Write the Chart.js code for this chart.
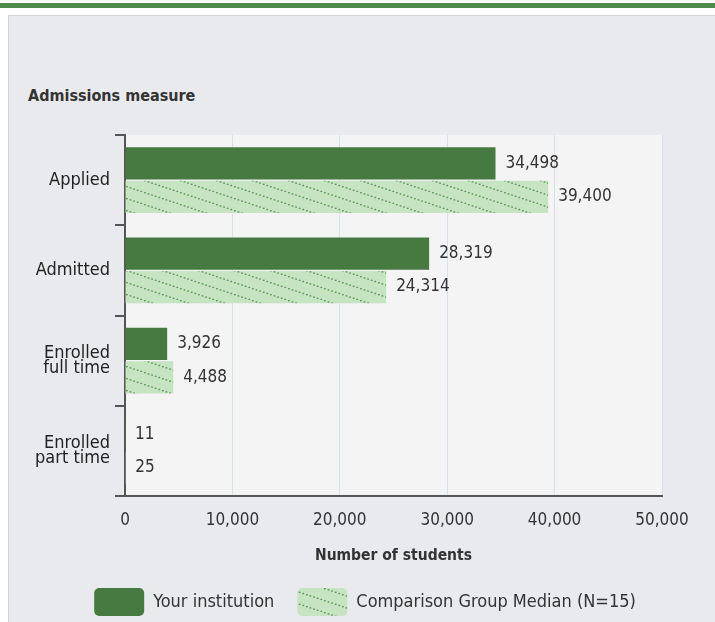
<!DOCTYPE html>
<html>
<head>
<meta charset="utf-8">
<script src="https://cdn.jsdelivr.net/npm/chart.js@4/dist/chart.umd.min.js"></script>
<style>
  html, body { margin: 0; padding: 0; background: #fff; }
  body { width: 715px; height: 622px; position: relative; overflow: hidden;
         font-family: "DejaVu Sans Condensed", "DejaVu Sans", sans-serif; }
  #topbar { position: absolute; left: 0; top: 3px; width: 715px; height: 5px; background: #4e8a48; }
  #panel { position: absolute; left: 8px; top: 15px; width: 720px; height: 620px;
           background: #e9eaed; border-top: 1px solid #d3d4d6; border-left: 1px solid #d3d4d6; }
  #heading { position: absolute; left: 28px; top: 86px; font-size: 16px; font-weight: bold; color: #333; }
  #wrap { position: absolute; left: 0; top: 0; width: 715px; height: 626px; }
</style>
</head>
<body>
<div id="topbar"></div>
<div id="panel"></div>
<div id="heading">Admissions measure</div>
<div id="wrap"><canvas id="chart"></canvas></div>
<script>
// data
const categories = [["Applied"], ["Admitted"], ["Enrolled", "full time"], ["Enrolled", "part time"]];
const yourInstitution = [34498, 28319, 3926, 11];
const comparisonMedian = [39400, 24314, 4488, 25];
const xTicks = [0, 10000, 20000, 30000, 40000, 50000];

const FONT = '"DejaVu Sans Condensed", "DejaVu Sans", sans-serif';
Chart.defaults.font.family = FONT;
Chart.defaults.color = "#333";

// dotted shallow diagonal hatch for the comparison bars
function makeHatch() {
  const c = document.createElement("canvas");
  c.width = 36; c.height = 12;
  const g = c.getContext("2d");
  g.fillStyle = "#c6e3c2";
  g.fillRect(0, 0, 36, 12);
  g.fillStyle = "#5b9856";
  for (let x = 0; x < 36; x += 3.6) {
    g.fillRect(x, x / 3, 1.7, 1.4);
  }
  return g.createPattern(c, "repeat");
}
const hatch = makeHatch();

// plot background
const plotBg = {
  id: "plotBg",
  beforeDraw(chart) {
    const { ctx, chartArea: a } = chart;
    ctx.save();
    ctx.fillStyle = "#f4f4f5";
    ctx.fillRect(a.left, a.top, a.right - a.left, a.bottom - a.top);
    ctx.restore();
  }
};

// legend sits centred on the grey panel, not on the canvas box
const legendShift = {
  id: "legendShift",
  beforeDraw(chart) {
    if (chart.legend) { chart.legend.left = 68; chart.legend.right = 662; }
  }
};

// value labels at the end of each bar
const valueLabels = {
  id: "valueLabels",
  afterDatasetsDraw(chart) {
    const { ctx } = chart;
    ctx.save();
    ctx.font = "17px " + FONT;
    ctx.fillStyle = "#333";
    ctx.textBaseline = "middle";
    chart.data.datasets.forEach((ds, i) => {
      chart.getDatasetMeta(i).data.forEach((bar, j) => {
        ctx.fillText(ds.data[j].toLocaleString("en-US"), bar.x + 10, bar.y);
      });
    });
    ctx.restore();
  }
};

new Chart(document.getElementById("chart"), {
  type: "bar",
  data: {
    labels: categories,
    datasets: [
      { label: "Your institution", data: yourInstitution, backgroundColor: "#467a41",
        borderWidth: 0, categoryPercentage: 0.74, barPercentage: 0.97 },
      { label: "Comparison Group Median (N=15)", data: comparisonMedian, backgroundColor: hatch,
        borderWidth: 0, categoryPercentage: 0.74, barPercentage: 0.97 }
    ]
  },
  options: {
    indexAxis: "y",
    responsive: true,
    maintainAspectRatio: false,
    animation: false,
    layout: { padding: { top: 135, right: 53, left: 0, bottom: 0 } },
    plugins: {
      tooltip: { enabled: false },
      legend: {
        position: "bottom",
        labels: {
          font: { size: 18 }, color: "#333",
          boxWidth: 50, boxHeight: 28, useBorderRadius: true, borderRadius: 5, padding: 23
        }
      }
    },
    scales: {
      x: {
        min: 0, max: 50000,
        afterBuildTicks(s) { s.ticks = xTicks.map(v => ({ value: v })); },
        grid: { color: "#d9dfeb", drawTicks: false, lineWidth: 1 },
        border: { display: true, color: "#555", width: 2 },
        ticks: { font: { size: 17 }, color: "#333", padding: 14,
                 callback: v => v.toLocaleString("en-US") },
        title: { display: true, text: "Number of students", color: "#333",
                 font: { size: 15.5, weight: "bold" }, padding: { top: 2, bottom: 0 } }
      },
      y: {
        afterFit(s) { s.width = 125; },
        grid: { drawOnChartArea: false, drawTicks: true, tickLength: 10, offset: true, color: "#555", lineWidth: 2 },
        border: { display: true, color: "#555", width: 2 },
        ticks: { font: { size: 18, lineHeight: 0.85 }, color: "#222", padding: 5 }
      }
    }
  },
  plugins: [plotBg, legendShift, valueLabels]
});
</script>
</body>
</html>
